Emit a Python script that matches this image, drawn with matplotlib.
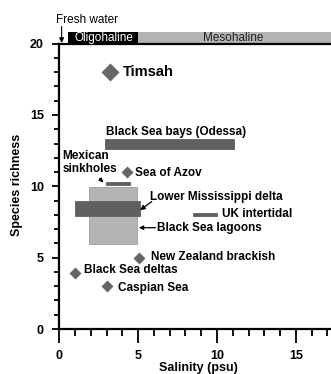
import matplotlib
matplotlib.use("Agg")
import matplotlib.pyplot as plt
from matplotlib.patches import Rectangle
from matplotlib.ticker import MultipleLocator

plt.rcParams['font.family'] = ['Liberation Sans', 'DejaVu Sans']
plt.rcParams['font.weight'] = 'bold'

# point data (diamonds)
pt_names = ["Timsah", "Sea of Azov", "New Zealand brackish", "Black Sea deltas", "Caspian Sea"]
pt_x = [3.2, 4.3, 5.05, 1.0, 3.0]
pt_y = [18.0, 11.0, 5.0, 3.9, 3.0]

# range bars: (xmin, xmax, ymin, ymax)
bar_names = ["Black Sea lagoons", "Black Sea bays (Odessa)", "Mexican sinkholes",
             "Lower Mississippi delta", "UK intertidal"]
bar_x0 = [1.9, 2.9, 2.95, 1.0, 8.45]
bar_x1 = [4.95, 11.05, 4.5, 5.1, 10.0]
bar_y0 = [5.95, 12.65, 10.1, 7.95, 7.92]
bar_y1 = [9.95, 13.3, 10.3, 8.95, 8.1]

zone_names = ["Oligohaline", "Mesohaline"]
zone_x0 = [0.55, 5.0]
zone_x1 = [5.0, 18.0]

fig = plt.figure(figsize=(3.31, 3.74), dpi=100)
ax = fig.add_axes([0.179, 0.1203, 0.839, 0.763])

DIAM = '#666666'
DARK = '#606060'
LIGHT = '#b4b4b4'

bar_colors = [LIGHT, DARK, DARK, DARK, DARK]
for x0, x1, y0, y1, c in zip(bar_x0, bar_x1, bar_y0, bar_y1, bar_colors):
    ax.add_patch(Rectangle((x0, y0), x1 - x0, y1 - y0, facecolor=c,
                           edgecolor='#9a9a9a' if c == LIGHT else c, lw=0.6, zorder=2))

ax.plot(pt_x[0], pt_y[0], 'D', color=DIAM, ms=9.5, mec='none', zorder=3)
ax.plot(pt_x[1:], pt_y[1:], 'D', color=DIAM, ms=6.5, mec='none', ls='none', zorder=3)

ax.set_xlim(0, 17.6)
ax.set_ylim(0, 20)
ax.xaxis.set_major_locator(MultipleLocator(5))
ax.xaxis.set_minor_locator(MultipleLocator(1))
ax.yaxis.set_major_locator(MultipleLocator(5))
ax.yaxis.set_minor_locator(MultipleLocator(1))
ax.tick_params(axis='x', which='major', length=10, width=1.3, pad=5, labelsize=9)
ax.tick_params(axis='x', which='minor', length=5, width=1.3)
ax.tick_params(axis='y', which='major', length=5, width=1.3, pad=6, labelsize=9)
ax.tick_params(axis='y', which='minor', length=3.5, width=1.3)
for lab in ax.get_xticklabels() + ax.get_yticklabels():
    lab.set_fontweight('bold')
for s in ['left', 'bottom', 'top']:
    ax.spines[s].set_linewidth(1.6)
ax.spines['right'].set_visible(False)

ax.set_xlabel("Salinity (psu)", fontsize=9, fontweight='bold')
ax.set_ylabel("Species richness", fontsize=9, fontweight='bold')
ax.xaxis.set_label_coords(0.4995, -0.137)
ax.xaxis.label.set_va('center')
ax.yaxis.set_label_coords(-0.152, 0.506)
ax.yaxis.label.set_va('center')

# zone bands above the axes
zone_fc = ['black', '#b4b4b4']
for x0, x1, fc in zip(zone_x0, zone_x1, zone_fc):
    ax.add_patch(Rectangle((x0, 20.05), x1 - x0, 0.75, facecolor=fc, edgecolor='none',
                           clip_on=False, zorder=1))
ax.text(2.82, 20.43, zone_names[0], color='white', fontsize=8.5,
        fontweight='normal', ha='center', va='center', clip_on=False)
ax.text(11.0, 20.43, zone_names[1], color='#222222', fontsize=8.5,
        fontweight='normal', ha='center', va='center', clip_on=False)

ax.text(-0.23, 21.67, "Fresh water", fontsize=8.5, fontweight='normal',
        ha='left', va='center', clip_on=False)
ax.annotate("", xy=(0.15, 20.05), xytext=(0.15, 21.2), annotation_clip=False,
            arrowprops=dict(arrowstyle='-|>', color='black', lw=0.8,
                            mutation_scale=7, shrinkA=0, shrinkB=0))

fs = 8.5
ax.text(4.02, 18.0, "Timsah", fontsize=10.5, fontweight='bold', va='center', ha='left')
ax.text(2.97, 13.84, "Black Sea bays (Odessa)", fontsize=fs, fontweight='bold', va='center')
ax.text(0.21, 11.7, "Mexican\nsinkholes", fontsize=fs, fontweight='bold', va='center',
        linespacing=1.1)
ax.annotate("", xy=(2.8, 10.27), xytext=(2.55, 10.55),
            arrowprops=dict(arrowstyle='-|>', color='black', lw=0.8, mutation_scale=6,
                            shrinkA=0, shrinkB=0))
ax.text(4.8, 10.95, "Sea of Azov", fontsize=fs, fontweight='bold', va='center')
ax.text(5.76, 9.24, "Lower Mississippi delta", fontsize=fs, fontweight='bold', va='center')
ax.annotate("", xy=(5.12, 8.33), xytext=(5.86, 8.93),
            arrowprops=dict(arrowstyle='-|>', color='black', lw=0.9, mutation_scale=7,
                            shrinkA=0, shrinkB=0))
ax.text(10.32, 8.06, "UK intertidal", fontsize=fs, fontweight='bold', va='center')
ax.annotate("", xy=(5.05, 7.1), xytext=(6.1, 7.1),
            arrowprops=dict(arrowstyle='-|>', color='black', lw=0.9, mutation_scale=6,
                            shrinkA=0, shrinkB=0))
ax.text(6.18, 7.1, "Black Sea lagoons", fontsize=fs, fontweight='bold', va='center')
ax.text(5.8, 5.05, "New Zealand brackish", fontsize=fs, fontweight='bold', va='center')
ax.text(1.59, 4.14, "Black Sea deltas", fontsize=fs, fontweight='bold', va='center')
ax.text(3.74, 2.9, "Caspian Sea", fontsize=fs, fontweight='bold', va='center')

fig.savefig("out.png", dpi=100)
